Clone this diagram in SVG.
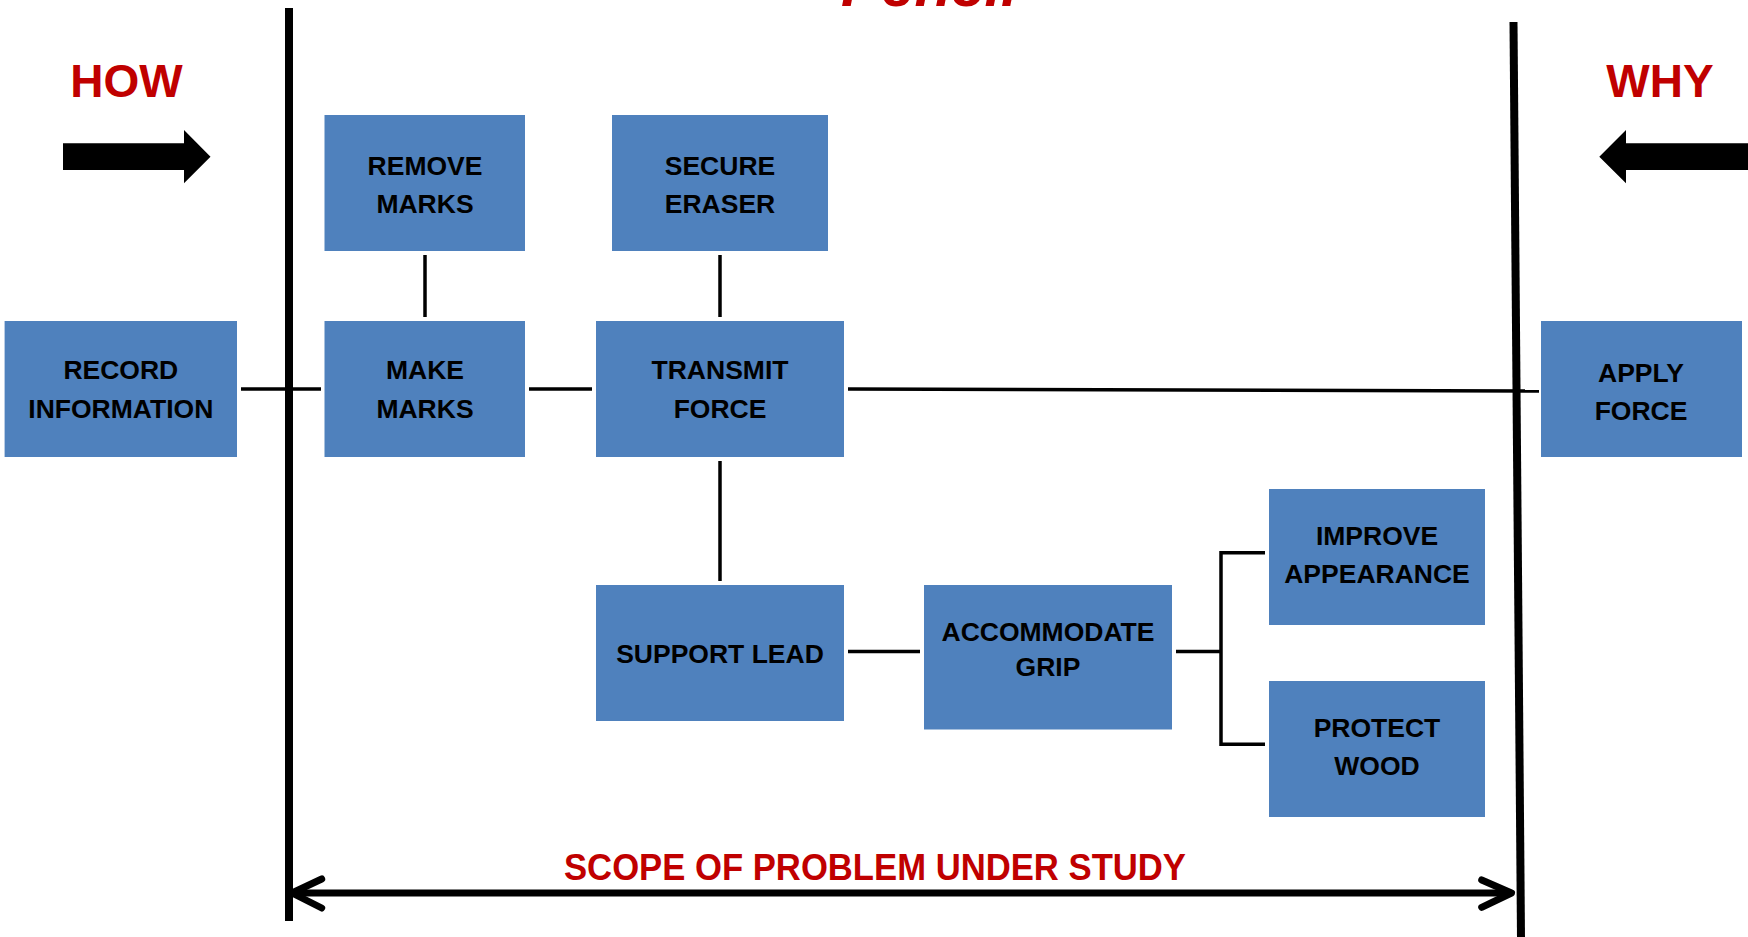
<svg xmlns="http://www.w3.org/2000/svg" width="1748" height="937" viewBox="0 0 1748 937">
<style>
.box{fill:#4F81BD}
.lbl{font-family:"Liberation Sans",Arial,sans-serif;font-weight:bold;font-size:26.5px;fill:#000;text-anchor:middle}
.red{font-family:"Liberation Sans",Arial,sans-serif;font-weight:bold;fill:#C00000}
.conn{stroke:#000;stroke-width:3.5;fill:none}
.bound{stroke:#000;stroke-width:8;fill:none}
</style>
<rect width="1748" height="937" fill="#fff"/>
<text class="red" x="841" y="6" font-size="60" font-style="italic">Pencil</text>
<g id="how">
<text class="red" x="126.5" y="96.7" font-size="46" text-anchor="middle">HOW</text>
<polygon points="63,143.3 184,143.3 184,130 210.5,156.7 184,183.3 184,170 63,170" fill="#000"/>
</g>
<g id="why">
<text class="red" x="1660" y="96.7" font-size="46" text-anchor="middle">WHY</text>
<polygon points="1748,143.3 1626,143.3 1626,130 1599.3,156.7 1626,183.3 1626,170 1748,170" fill="#000"/>
</g>
<g id="connectors">
<line class="bound" x1="289" y1="8" x2="289" y2="921"/>
<line class="bound" x1="1513.5" y1="22" x2="1521" y2="937"/>
<line class="conn" x1="241" y1="389" x2="321" y2="389"/>
<line class="conn" x1="529" y1="389" x2="592" y2="389"/>
<line class="conn" x1="848" y1="389" x2="1539" y2="391"/>
<line class="conn" x1="425" y1="255" x2="425" y2="317"/>
<line class="conn" x1="720" y1="255" x2="720" y2="317"/>
<line class="conn" x1="720" y1="461" x2="720" y2="581"/>
<line class="conn" x1="848" y1="651.5" x2="920" y2="651.5"/>
<line class="conn" x1="1176" y1="651.5" x2="1221" y2="651.5"/>
<polyline class="conn" points="1265,552.7 1221,552.7 1221,744.3 1265,744.3"/>
</g>
<g id="scope">
<text class="red" x="875" y="880" font-size="36" text-anchor="middle" textLength="622" lengthAdjust="spacingAndGlyphs">SCOPE OF PROBLEM UNDER STUDY</text>
<line x1="293" y1="893" x2="1510" y2="893" stroke="#000" stroke-width="7"/>
<polyline points="321.7,879 292,893 321.7,908" fill="none" stroke="#000" stroke-width="7" stroke-linecap="round" stroke-linejoin="round"/>
<polyline points="1481.7,880 1511.5,893 1481.7,907.3" fill="none" stroke="#000" stroke-width="7" stroke-linecap="round" stroke-linejoin="round"/>
</g>
<g id="record-information">
<rect class="box" x="4.6" y="321" width="232.4" height="136"/>
<text class="lbl" x="120.8" y="379.3">RECORD</text>
<text class="lbl" x="120.8" y="418.3">INFORMATION</text>
</g>
<g id="remove-marks">
<rect class="box" x="324.5" y="115" width="200.5" height="136"/>
<text class="lbl" x="425" y="175">REMOVE</text>
<text class="lbl" x="425" y="213.3">MARKS</text>
</g>
<g id="secure-eraser">
<rect class="box" x="612" y="115" width="216" height="136"/>
<text class="lbl" x="720" y="175">SECURE</text>
<text class="lbl" x="720" y="213.3">ERASER</text>
</g>
<g id="make-marks">
<rect class="box" x="324.5" y="321" width="200.5" height="136"/>
<text class="lbl" x="425" y="379.3">MAKE</text>
<text class="lbl" x="425" y="418.3">MARKS</text>
</g>
<g id="transmit-force">
<rect class="box" x="596" y="321" width="248" height="136"/>
<text class="lbl" x="720" y="379.3">TRANSMIT</text>
<text class="lbl" x="720" y="418.3">FORCE</text>
</g>
<g id="apply-force">
<rect class="box" x="1541" y="321" width="201" height="136"/>
<text class="lbl" x="1641" y="381.7" font-size="25.5">APPLY</text>
<text class="lbl" x="1641" y="420" font-size="25.5">FORCE</text>
</g>
<g id="support-lead">
<rect class="box" x="596" y="585" width="248" height="136"/>
<text class="lbl" x="720" y="662.7">SUPPORT LEAD</text>
</g>
<g id="accommodate-grip">
<rect class="box" x="924" y="585" width="248" height="144.5"/>
<text class="lbl" x="1048" y="641" font-size="25.5">ACCOMMODATE</text>
<text class="lbl" x="1048" y="676" font-size="25.5">GRIP</text>
</g>
<g id="improve-appearance">
<rect class="box" x="1269" y="489" width="216" height="136"/>
<text class="lbl" x="1377" y="545">IMPROVE</text>
<text class="lbl" x="1377" y="583.3">APPEARANCE</text>
</g>
<g id="protect-wood">
<rect class="box" x="1269" y="681" width="216" height="136"/>
<text class="lbl" x="1377" y="736.7">PROTECT</text>
<text class="lbl" x="1377" y="775">WOOD</text>
</g>
</svg>
